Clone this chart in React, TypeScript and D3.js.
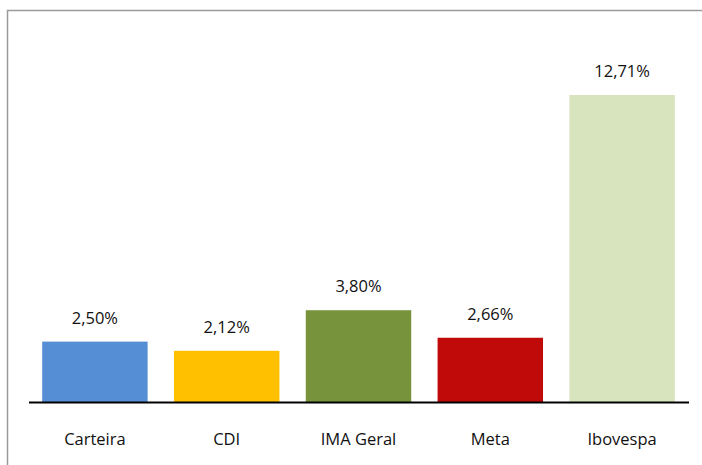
import React, { useEffect, useRef } from 'react';
import * as d3 from 'd3';

const categories = ['Carteira', 'CDI', 'IMA Geral', 'Meta', 'Ibovespa'];
const values = [2.5, 2.12, 3.8, 2.66, 12.71];
const colors = ['#558ed5', '#ffc000', '#77933c', '#c00a0a', '#d7e4bd'];

const App: React.FC = () => {
  const svgRef = useRef<SVGSVGElement>(null);

  useEffect(() => {
    if (!svgRef.current) return;
    const width = 702;
    const height = 465;
    const baseY = 402;

    const svg = d3.select(svgRef.current);
    svg.selectAll('*').remove();
    svg.attr('width', width).attr('height', height);

    // outer frame (right and bottom edges fall outside the view)
    svg.append('rect')
      .attr('x', 7.5)
      .attr('y', 10.5)
      .attr('width', 720)
      .attr('height', 480)
      .attr('fill', 'none')
      .attr('stroke', '#9a9a9a')
      .attr('stroke-width', 1.5);

    const x = d3.scaleBand<string>()
      .domain(categories)
      .range([29, 688])
      .paddingInner(0.2)
      .paddingOuter(0.1);

    const y = d3.scaleLinear()
      .domain([0, 12.71])
      .range([baseY, 95]);

    const data = categories.map((c, i) => ({ name: c, value: values[i], color: colors[i] }));

    // Bars
    svg.selectAll('.bar')
      .data(data)
      .enter().append('rect')
      .attr('class', 'bar')
      .attr('x', d => x(d.name) || 0)
      .attr('y', d => y(d.value))
      .attr('width', x.bandwidth())
      .attr('height', d => baseY - y(d.value))
      .attr('fill', d => d.color);

    // Baseline
    svg.append('line')
      .attr('x1', 29)
      .attr('x2', 689)
      .attr('y1', baseY + 0.5)
      .attr('y2', baseY + 0.5)
      .attr('stroke', '#000')
      .attr('stroke-width', 2);

    const fontFamily = "'Open Sans', 'Noto Sans', sans-serif";

    // Value labels
    svg.selectAll('.val')
      .data(data)
      .enter().append('text')
      .attr('class', 'val')
      .attr('x', d => (x(d.name) || 0) + x.bandwidth() / 2)
      .attr('y', d => y(d.value) - 18)
      .attr('text-anchor', 'middle')
      .style('font-family', fontFamily)
      .style('font-size', '16.5px')
      .style('fill', '#111')
      .text(d => d.value.toFixed(2).replace('.', ',') + '%');

    // Category labels
    svg.selectAll('.cat')
      .data(data)
      .enter().append('text')
      .attr('class', 'cat')
      .attr('x', d => (x(d.name) || 0) + x.bandwidth() / 2)
      .attr('y', 445)
      .attr('text-anchor', 'middle')
      .style('font-family', fontFamily)
      .style('font-size', '16.5px')
      .style('fill', '#111')
      .text(d => d.name);
  }, []);

  return (
    <div style={{ position: 'fixed', left: 0, top: 0, width: 702, height: 465, background: '#fff' }}>
      <svg ref={svgRef} style={{ display: 'block' }}></svg>
    </div>
  );
};

export default App;
